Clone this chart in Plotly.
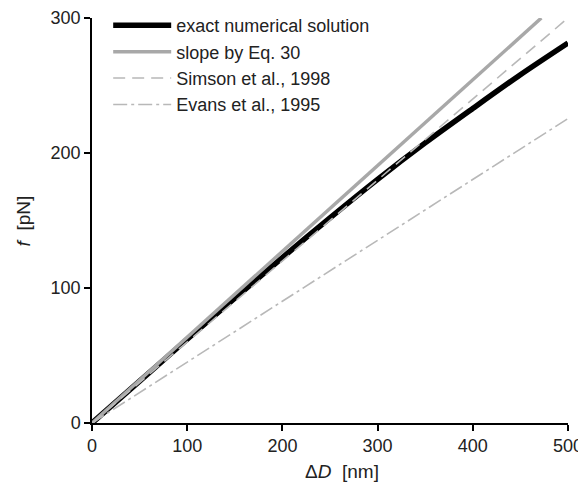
import plotly.graph_objects as go

# Data
D_exact = [0, 50, 100, 150, 200, 250, 300, 350, 400, 450, 500]
f_exact = [0, 31, 62, 92.5, 122.5, 152, 180.5, 207.5, 233, 258, 281.5]

D_slope = [0, 472]
f_slope = [0, 300]

D_simson = [0, 500]
f_simson = [0, 300]

D_evans = [0, 500]
f_evans = [0, 225.5]

x_ticks = [0, 100, 200, 300, 400, 500]
y_ticks = [0, 100, 200, 300]

FONT = "Liberation Sans, Arial, sans-serif"

fig = go.Figure()
fig.add_trace(go.Scatter(x=D_exact, y=f_exact, mode="lines", name="exact numerical solution",
                         line=dict(color="black", width=5.5, shape="spline", smoothing=0.8)))
fig.add_trace(go.Scatter(x=D_slope, y=f_slope, mode="lines", name="slope by Eq. 30",
                         line=dict(color="#a8a8a8", width=3.5)))
fig.add_trace(go.Scatter(x=D_simson, y=f_simson, mode="lines", name="Simson et al., 1998",
                         line=dict(color="#b8b8b8", width=1.6, dash="12px,7px")))
fig.add_trace(go.Scatter(x=D_evans, y=f_evans, mode="lines", name="Evans et al., 1995",
                         line=dict(color="#b8b8b8", width=1.6, dash="14px,4px,3px,4px")))

fig.add_annotation(text="Δ<i>D</i>&nbsp;&nbsp;[nm]", xref="paper", yref="paper",
                   x=0.525, y=-0.12, xanchor="center", yanchor="middle",
                   showarrow=False, font=dict(size=19))
fig.add_annotation(text="<i>f</i>&nbsp;&nbsp;[pN]", xref="paper", yref="paper",
                   x=-0.143, y=0.5, xanchor="center", yanchor="middle", textangle=-90,
                   showarrow=False, font=dict(size=19))

fig.update_layout(
    width=578, height=481,
    margin=dict(l=84, r=18, t=10, b=66, autoexpand=False),
    paper_bgcolor="white", plot_bgcolor="white",
    font=dict(family=FONT, size=18, color="#222"),
    showlegend=True,
    legend=dict(x=0.034, y=1.027, xanchor="left", yanchor="top", itemwidth=58,
                bgcolor="rgba(0,0,0,0)", font=dict(size=18), tracegroupgap=0),
    xaxis=dict(range=[0, 500], tickvals=x_ticks, ticks="outside", ticklen=6, tickwidth=1.5,
               tickcolor="black", showline=True, linecolor="black", linewidth=1.5,
               showgrid=False, zeroline=False, automargin=False,
               ticklabeloverflow="allow"),
    yaxis=dict(range=[0, 300], tickvals=y_ticks, ticks="outside", ticklen=6, tickwidth=1.5,
               tickcolor="black", showline=True, linecolor="black", linewidth=1.5,
               showgrid=False, zeroline=False, automargin=False,
               ticklabeloverflow="allow"),
)

fig.write_html("out.html")
